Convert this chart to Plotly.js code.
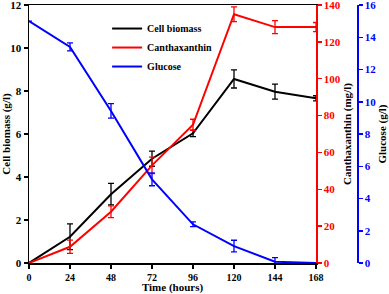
<!DOCTYPE html>
<html><head><meta charset="utf-8">
<script src="https://cdn.plot.ly/plotly-3.0.1.min.js"></script>
<style>body{margin:0;padding:0;background:#fff}#c{width:389px;height:294px}</style>
</head><body><div id="c"></div>
<script>
var hours = [0, 24, 48, 72, 96, 120, 144, 168];
var biomass = [0, 1.22, 3.2, 4.85, 6.03, 8.56, 7.97, 7.66];
var biomassErr = [0, 0.6, 0.5, 0.35, 0.15, 0.42, 0.35, 0.12];
var canthaxanthin = [0, 8.8, 27.8, 53, 75, 135, 128, 128];
var canthaxanthinErr = [0, 3.6, 3.2, 4.5, 3.0, 4.0, 3.5, 2.5];
var glucose = [15.0, 13.4, 9.43, 5.19, 2.4, 1.05, 0.08, 0.0];
var glucoseErr = [0, 0.25, 0.45, 0.4, 0.15, 0.36, 0.25, 0];
var xTicks = [0, 24, 48, 72, 96, 120, 144, 168];

var F = "'Liberation Serif', 'DejaVu Serif', serif";
function eb(arr, col){return {type:'data', array:arr, visible:true, color:col, thickness:1.3, width:3};}
var traces = [
 {x:hours, y:biomass, name:'Cell biomass', mode:'lines', line:{color:'#000000', width:2}, error_y:eb(biomassErr,'#000000'), yaxis:'y'},
 {x:hours, y:canthaxanthin, name:'Canthaxanthin', mode:'lines', line:{color:'#ff0000', width:2}, error_y:eb(canthaxanthinErr,'#ff0000'), yaxis:'y2'},
 {x:hours, y:glucose, name:'Glucose', mode:'lines', line:{color:'#0000ff', width:2}, error_y:eb(glucoseErr,'#0000ff'), yaxis:'y3'}
];
var tf = {family:F, size:11, color:'#000', weight:'bold'};
var layout = {
 width:389, height:294,
 margin:{l:29, r:5, t:5, b:31},
 paper_bgcolor:'#fff', plot_bgcolor:'#fff',
 showlegend:true,
 legend:{x:0.22, y:0.965, xanchor:'left', yanchor:'top', bgcolor:'rgba(0,0,0,0)', font:{family:F, size:10, color:'#000', weight:'bold'}, tracegroupgap:0, itemwidth:30},
 xaxis:{domain:[0, 287/355], range:[0,168], tickvals:xTicks, ticktext:xTicks.map(String), showgrid:false, zeroline:false,
   showline:true, linecolor:'#000', linewidth:1.5, mirror:true, ticks:'outside', ticklen:4, tickcolor:'#000', tickwidth:1.5,
   tickfont:{family:F, size:10, color:'#000', weight:'bold'}, ticklabeloverflow:'allow',
   title:{text:'Time (hours)', font:{family:F, size:11, color:'#000', weight:'bold'}, standoff:1}},
 yaxis:{range:[0,12], dtick:2, showgrid:false, zeroline:false, showline:true, linecolor:'#000', linewidth:1.5,
   ticks:'outside', ticklen:4, tickcolor:'#000', tickwidth:1.5, tickfont:tf, ticklabeloverflow:'allow',
   title:{text:'Cell biomass (g/l)', font:{family:F, size:11, color:'#000', weight:'bold'}, standoff:6}},
 yaxis2:{range:[0,140], dtick:20, overlaying:'y', side:'right', anchor:'x', showgrid:false, zeroline:false, showline:true,
   linecolor:'#ff0000', linewidth:1.5, ticks:'outside', ticklen:4, tickcolor:'#ff0000', tickwidth:1.5,
   tickfont:{family:F, size:11, color:'#ff0000', weight:'bold'}, ticklabeloverflow:'allow',
   title:{text:'Canthaxanthin (mg/l)', font:{family:F, size:11, color:'#000', weight:'bold'}, standoff:0}},
 yaxis3:{range:[0,16], dtick:2, overlaying:'y', side:'right', anchor:'free', position:328/355, showgrid:false, zeroline:false, showline:true,
   linecolor:'#0000ff', linewidth:1.5, ticks:'outside', ticklen:4, tickcolor:'#0000ff', tickwidth:1.5,
   tickfont:{family:F, size:11, color:'#0000ff', weight:'bold'}, ticklabeloverflow:'allow',
   title:{text:'Glucose (g/l)', font:{family:F, size:11, color:'#000', weight:'bold'}, standoff:8}}
};
Plotly.newPlot('c', traces, layout, {displayModeBar:false, staticPlot:true});
</script></body></html>
